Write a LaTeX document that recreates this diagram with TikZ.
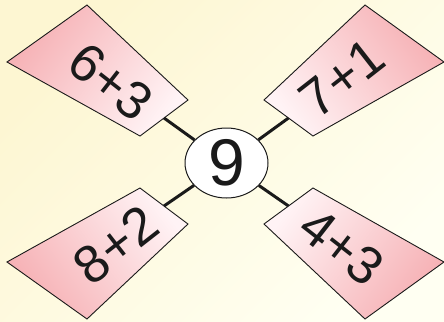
\documentclass[tikz,border=0pt]{standalone}
\usepackage{fontspec}
\setmainfont{Liberation Sans}
\usetikzlibrary{shapes.geometric}
\definecolor{bgA}{HTML}{FDF6D2}
\definecolor{bgB}{HTML}{FFFFF2}
\definecolor{pinkFar}{HTML}{F6B0B4}
\definecolor{pinkNear}{HTML}{FFF3F5}
\definecolor{ink}{HTML}{1A1A1A}
\tikzset{
  blade/.style={draw=ink, line width=0.9pt, line join=miter},
  bladetext/.style={inner sep=0pt, font=\fontsize{53}{53}\selectfont, text=ink},
  link/.style={draw=ink, line width=3pt},
  hub/.style={ellipse, draw=ink, line width=1pt, fill=white, minimum width=83pt, minimum height=70pt, inner sep=0pt, font=\fontsize{66}{66}\selectfont, text=ink}
}
\begin{document}
\begin{tikzpicture}[x=1pt,y=-1pt]
\useasboundingbox (0,0) rectangle (444,321);
\shade[top color=bgA, bottom color=bgB, shading angle=45] (0,0) rectangle (444,321);
% blades
\shade[blade, top color=pinkFar, bottom color=pinkNear, shading angle=54]
  (87,5) -- (7,62) -- (140,136) -- (188,100) -- cycle;
\shade[blade, top color=pinkFar, bottom color=pinkNear, shading angle=-54]
  (365,5) -- (444,62) -- (313,136) -- (264,100) -- cycle;
\shade[blade, top color=pinkFar, bottom color=pinkNear, shading angle=126]
  (87,319) -- (7,262) -- (140,188) -- (188,224) -- cycle;
\shade[blade, top color=pinkFar, bottom color=pinkNear, shading angle=-126]
  (365,319) -- (444,262) -- (313,188) -- (264,224) -- cycle;
% attachment points
\coordinate (nTL) at (164,118);
\coordinate (nTR) at (288.5,118);
\coordinate (nBL) at (164,206);
\coordinate (nBR) at (288.5,206);
% hub
\node[hub] (c) at (226.5,163) {9};
\draw[link] (nTL) -- (c);
\draw[link] (nTR) -- (c);
\draw[link] (nBL) -- (c);
\draw[link] (nBR) -- (c);
% labels
\node[bladetext, rotate=-38] (tTL) at (111,82) {6+3};
\node[bladetext, rotate=38] (tTR) at (342,78) {7+1};
\node[bladetext, rotate=38] (tBL) at (116,245) {8+2};
\node[bladetext, rotate=-38] (tBR) at (342,247) {4+3};
\end{tikzpicture}
\end{document}
